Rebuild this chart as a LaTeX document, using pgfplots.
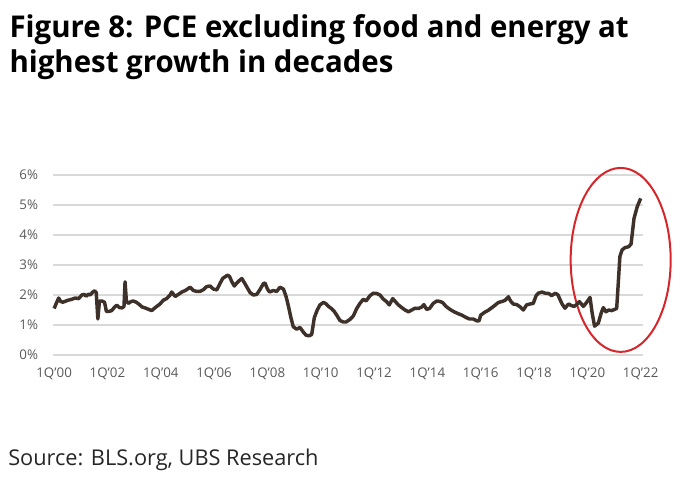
\documentclass[border=0pt]{standalone}
\usepackage{pgfplots}
\pgfplotsset{compat=1.18}
\usepackage{fontspec}
\setmainfont{Open Sans}
\newfontfamily\titlefont[FakeStretch=0.98]{Open Sans}
\definecolor{linec}{HTML}{3E3129}
\definecolor{tickc}{HTML}{595959}
\definecolor{gridc}{HTML}{D9D9D9}
\definecolor{ellc}{HTML}{D7262B}
\begin{document}
\begin{tikzpicture}
\useasboundingbox (-40pt,-95.25pt) rectangle (470pt,266.25pt);
\node[anchor=base west, inner sep=0pt] at (-33pt,238.3pt) {\titlefont\bfseries\fontsize{22.5pt}{26pt}\selectfont Figure 8: PCE excluding food and energy at};
\node[anchor=base west, inner sep=0pt] at (-33pt,211.7pt) {\titlefont\bfseries\fontsize{22.5pt}{26pt}\selectfont highest growth in decades};
\node[anchor=base west, inner sep=0pt] at (-34pt,-82.5pt) {\fontsize{16.3pt}{19pt}\selectfont\color{black!85} Source: BLS.org, UBS Research};
\begin{axis}[
  at={(0,0)}, anchor=south west,
  scale only axis, width=442.3pt, height=135pt,
  xmin=1999.97, xmax=2022.09, ymin=0, ymax=6,
  axis line style={draw=none}, major tick style={draw=none},
  ymajorgrids, grid style={color=gridc, line width=1pt},
  ytick={0,1,2,3,4,5,6},
  yticklabel={\pgfmathprintnumber{\tick}\%},
  xtick={2000,2002,2004,2006,2008,2010,2012,2014,2016,2018,2020,2022},
  xticklabels={1Q'00,1Q'02,1Q'04,1Q'06,1Q'08,1Q'10,1Q'12,1Q'14,1Q'16,1Q'18,1Q'20,1Q'22},
  yticklabel style={anchor=east, inner sep=0pt, xshift=-11.25pt, font=\fontsize{10pt}{12pt}\selectfont, text=tickc},
  xticklabel style={anchor=north, inner sep=0pt, yshift=-9.5pt, font=\fontsize{10pt}{12pt}\selectfont, text=tickc},
  /pgf/number format/assume math mode=true,
  clip=false,
]
\draw[ellc, line width=1.5pt] (axis cs:2021.25,3.17) ellipse [x radius=37.5pt, y radius=69pt];
\addplot[color=linec, line width=2.6pt, line join=round, mark=none] table {
x y
2000.00 1.55
2000.08 1.72
2000.17 1.90
2000.25 1.78
2000.33 1.76
2000.50 1.82
2000.67 1.86
2000.79 1.90
2000.92 1.88
2001.04 2.00
2001.13 2.02
2001.20 1.96
2001.29 2.03
2001.35 2.00
2001.45 2.10
2001.52 2.14
2001.58 2.08
2001.64 1.20
2001.70 1.80
2001.80 1.80
2001.89 1.76
2001.96 1.45
2002.04 1.45
2002.16 1.48
2002.27 1.60
2002.35 1.66
2002.45 1.58
2002.55 1.57
2002.62 1.62
2002.66 2.44
2002.71 1.80
2002.78 1.72
2002.88 1.78
2002.97 1.80
2003.08 1.76
2003.20 1.68
2003.30 1.60
2003.41 1.57
2003.55 1.52
2003.66 1.48
2003.75 1.55
2003.85 1.62
2003.97 1.70
2004.10 1.83
2004.22 1.88
2004.35 2.00
2004.41 2.10
2004.48 2.02
2004.54 1.95
2004.66 2.02
2004.79 2.10
2004.92 2.15
2005.04 2.22
2005.10 2.26
2005.22 2.15
2005.35 2.12
2005.47 2.12
2005.60 2.18
2005.72 2.28
2005.85 2.30
2005.97 2.20
2006.10 2.17
2006.22 2.38
2006.32 2.55
2006.40 2.60
2006.50 2.66
2006.58 2.62
2006.66 2.45
2006.76 2.30
2006.85 2.40
2006.97 2.50
2007.04 2.55
2007.13 2.42
2007.22 2.28
2007.35 2.08
2007.47 2.00
2007.60 2.02
2007.72 2.18
2007.85 2.38
2007.91 2.40
2008.00 2.20
2008.08 2.10
2008.22 2.15
2008.35 2.12
2008.47 2.26
2008.60 2.20
2008.70 1.95
2008.79 1.62
2008.88 1.25
2008.97 0.94
2009.10 0.86
2009.22 0.92
2009.35 0.76
2009.45 0.66
2009.56 0.64
2009.66 0.68
2009.76 1.25
2009.87 1.50
2009.97 1.67
2010.10 1.75
2010.18 1.72
2010.29 1.62
2010.40 1.55
2010.51 1.45
2010.62 1.30
2010.72 1.15
2010.85 1.10
2010.95 1.10
2011.10 1.19
2011.22 1.30
2011.35 1.55
2011.47 1.72
2011.60 1.86
2011.70 1.80
2011.85 1.98
2011.97 2.06
2012.10 2.05
2012.22 2.00
2012.35 1.86
2012.47 1.78
2012.57 1.67
2012.70 1.88
2012.80 1.78
2012.91 1.67
2013.04 1.58
2013.16 1.50
2013.29 1.44
2013.41 1.50
2013.54 1.56
2013.66 1.55
2013.79 1.60
2013.87 1.68
2013.97 1.52
2014.08 1.55
2014.22 1.72
2014.35 1.80
2014.45 1.79
2014.57 1.75
2014.70 1.62
2014.85 1.52
2015.00 1.44
2015.15 1.38
2015.29 1.33
2015.45 1.25
2015.58 1.20
2015.72 1.20
2015.85 1.14
2015.94 1.14
2016.00 1.33
2016.16 1.43
2016.30 1.50
2016.42 1.58
2016.54 1.66
2016.66 1.75
2016.78 1.78
2016.91 1.82
2017.04 1.94
2017.12 1.80
2017.22 1.70
2017.35 1.68
2017.47 1.61
2017.60 1.50
2017.72 1.67
2017.85 1.70
2017.97 1.72
2018.08 1.98
2018.16 2.06
2018.30 2.10
2018.42 2.06
2018.55 2.05
2018.66 1.98
2018.80 2.06
2018.90 2.00
2019.04 1.72
2019.16 1.56
2019.29 1.70
2019.40 1.65
2019.50 1.62
2019.60 1.68
2019.70 1.78
2019.85 1.62
2019.97 1.75
2020.10 1.92
2020.18 1.40
2020.27 0.96
2020.41 1.06
2020.52 1.40
2020.60 1.58
2020.70 1.44
2020.80 1.50
2020.91 1.48
2021.02 1.52
2021.10 1.55
2021.16 2.40
2021.22 3.28
2021.30 3.50
2021.41 3.58
2021.55 3.61
2021.64 3.70
2021.75 4.55
2021.87 4.94
2022.00 5.22
};
\end{axis}
\end{tikzpicture}
\end{document}
